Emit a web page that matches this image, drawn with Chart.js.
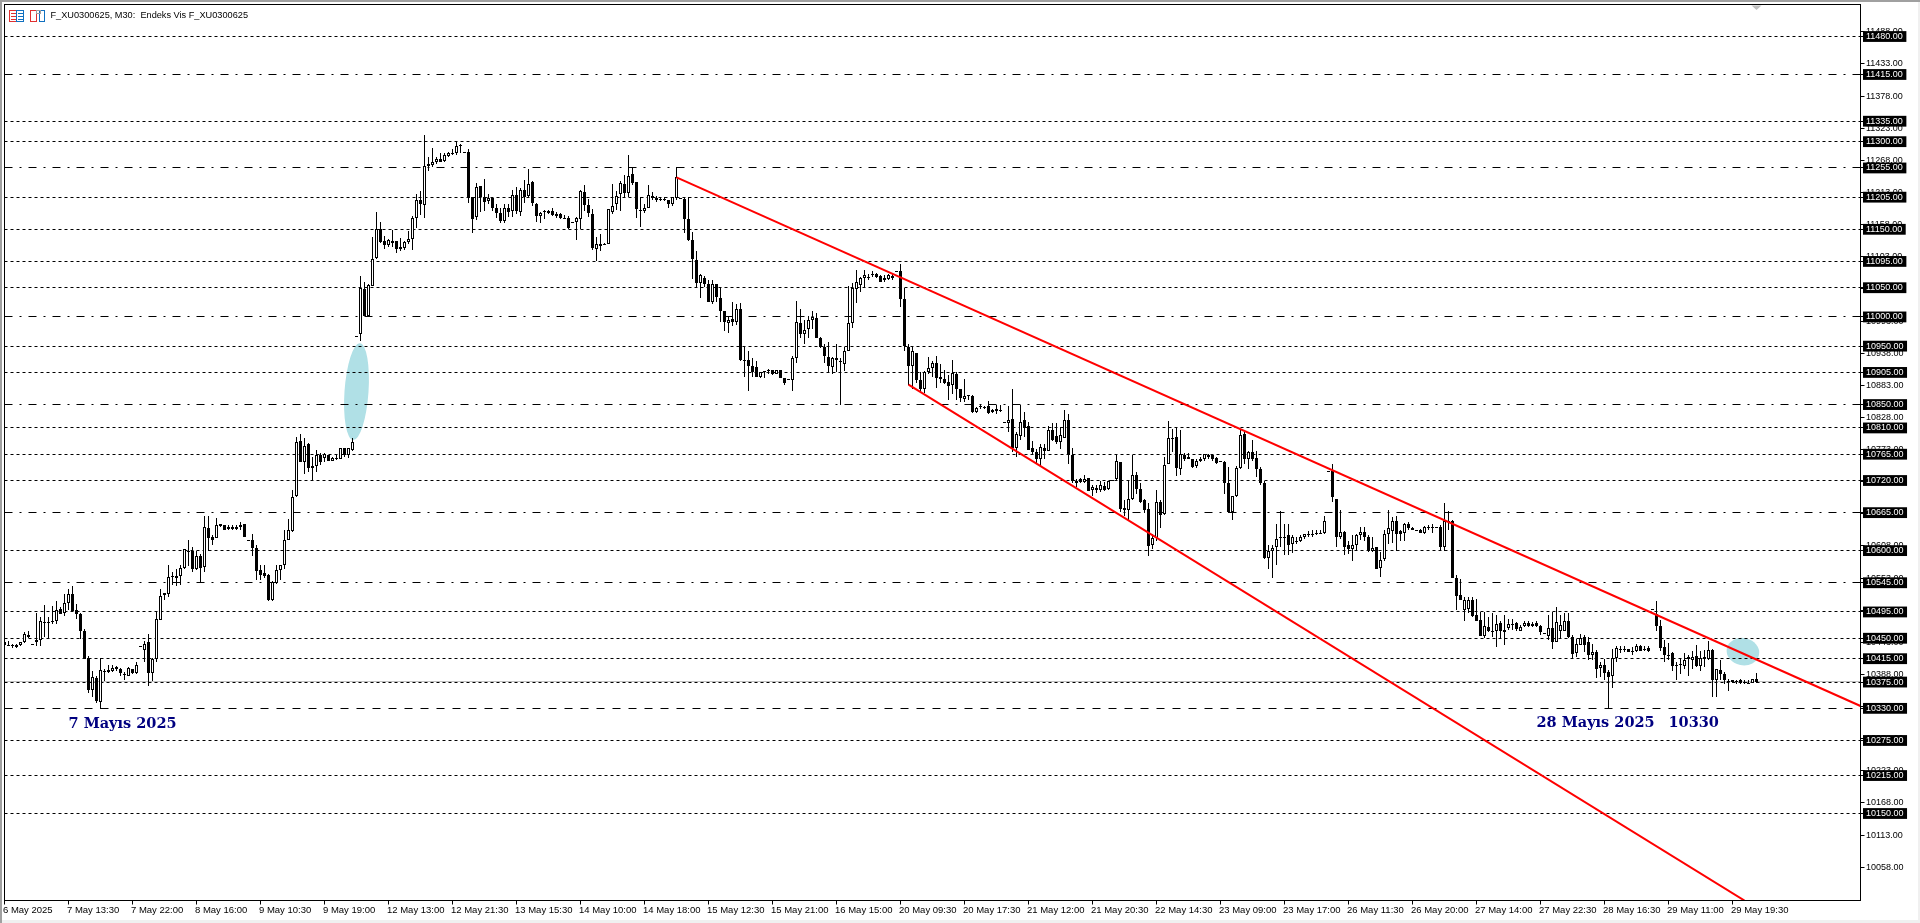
<!DOCTYPE html>
<html>
<head>
<meta charset="utf-8">
<title>F_XU0300625, M30</title>
<style>
html,body{margin:0;padding:0;background:#fff;overflow:hidden}
canvas{display:block}
</style>
<script src="https://cdn.jsdelivr.net/npm/chart.js@4"></script>
</head>
<body>
<canvas id="c" width="1920" height="923"></canvas>
<script>
const tickLabels = ["6 May 2025","7 May 13:30","7 May 22:00","8 May 16:00","9 May 10:30","9 May 19:00","12 May 13:00","12 May 21:30","13 May 15:30","14 May 10:00","14 May 18:00","15 May 12:30","15 May 21:00","16 May 15:00","20 May 09:30","20 May 17:30","21 May 12:00","21 May 20:30","22 May 14:30","23 May 09:00","23 May 17:00","26 May 11:30","26 May 20:00","27 May 14:00","27 May 22:30","28 May 16:30","29 May 11:00","29 May 19:30"];
const priceTicks = [11488,11433,11378,11323,11268,11213,11158,11103,11048,10993,10938,10883,10828,10773,10718,10663,10608,10553,10498,10443,10388,10333,10278,10223,10168,10113,10058];
const dottedLevels = [11480,11335,11300,11205,11150,11095,11050,10950,10905,10810,10765,10720,10600,10495,10450,10415,10375,10275,10215,10150];
const dashDotLevels = [11415,11255,11000,10850,10665,10545];
const dashedLevels = [10330];
const lastPrice = 10376.5;
const upperTrend = [[168,11239],[464,10334]];
const lowerTrend = [[226,10884],[435,10001]];
const opens = [
10444,10438,10439,10435,10438,10443,10456,10441,10443,10447,
10478,10478,10479,10479,10500,10493,10511,10525,10499,10492,
10463,10417,10362,10382,10341,10394,10395,10394,10401,10398,
10389,10386,10397,10391,10436,10430,10444,10390,10414,10482,
10527,10526,10556,10553,10556,10571,10600,10599,10569,10590,
10572,10639,10623,10622,10645,10643,10640,10640,10640,10643,
10646,10619,10619,10605,10566,10562,10559,10515,10545,10566,
10575,10619,10634,10693,10788,10752,10782,10744,10745,10763,
10758,10764,10754,10759,10757,10775,10764,10772,10967,10970,
11047,11002,11053,11101,11150,11130,11123,11130,11130,11119,
11118,11129,11133,11170,11201,11191,11262,11260,11266,11271,
11267,11276,11280,11280,11294,11283,11283,11206,11171,11224,
11206,11199,11203,11186,11178,11165,11187,11182,11208,11180,
11218,11207,11231,11194,11173,11182,11178,11182,11173,11177,
11170,11170,11162,11162,11168,11213,11192,11177,11117,11121,
11125,11125,11180,11194,11211,11227,11212,11244,11231,11183,
11182,11187,11207,11204,11202,11202,11200,11194,11203,11204,
11202,11167,11131,11098,11058,11067,11056,11026,11056,11033,
11011,10990,10996,10992,11014,10927,10926,10916,10914,10898,
10905,10909,10910,10903,10909,10896,10893,10892,10929,10989,
10971,10980,10995,10999,10964,10949,10932,10914,10930,10925,
10920,10942,10989,11047,11055,11067,11069,11071,11074,11070,
11063,11065,11070,11078,11078,11031,10949,10916,10939,10892,
10876,10906,10913,10922,10898,10894,10889,10884,10902,10876,
10860,10867,10864,10838,10847,10846,10847,10840,10839,10841,
10821,10818,10825,10776,10797,10823,10813,10775,10768,10757,
10776,10770,10806,10796,10786,10793,10824,10764,10719,10723,
10717,10724,10703,10708,10704,10710,10705,10721,10722,10752,
10673,10670,10689,10730,10705,10686,10671,10609,10621,10683,
10662,10749,10793,10794,10740,10763,10760,10757,10744,10757,
10756,10763,10763,10758,10753,10751,10715,10666,10693,10741,
10800,10756,10769,10759,10740,10716,10587,10599,10606,10624,
10624,10626,10612,10617,10617,10623,10629,10629,10631,10631,
10631,10736,10736,10689,10623,10632,10609,10602,10610,10626,
10632,10624,10599,10606,10570,10585,10629,10633,10651,10633,
10631,10646,10639,10636,10636,10630,10640,10640,10641,10641,
10607,10651,10651,10553,10524,10499,10500,10516,10489,10482,
10454,10470,10463,10462,10476,10460,10467,10475,10476,10463,
10471,10476,10475,10476,10471,10459,10453,10468,10444,10463,
10463,10479,10452,10424,10439,10452,10444,10422,10426,10399,
10405,10393,10385,10416,10431,10431,10431,10429,10429,10436,
10432,10433,10500,10492,10471,10435,10422,10425,10405,10406,
10403,10418,10412,10419,10402,10418,10414,10430,10378,10395,
10389,10377,10375,10376,10379,10375,10374,10374,10380];
const closes = [
10439,10438,10436,10438,10443,10458,10452,10441,10447,10480,
10478,10478,10480,10499,10492,10511,10526,10496,10492,10462,
10415,10362,10383,10343,10396,10394,10392,10399,10397,10390,
10388,10399,10391,10404,10436,10441,10390,10415,10483,10523,
10524,10554,10554,10557,10571,10602,10598,10568,10590,10570,
10640,10622,10618,10644,10642,10635,10637,10637,10637,10640,
10623,10619,10604,10565,10558,10556,10515,10546,10567,10576,
10619,10635,10692,10786,10752,10779,10742,10741,10764,10752,
10765,10754,10759,10759,10775,10763,10775,10786,10967,11049,
11002,11054,11100,11151,11129,11123,11131,11127,11117,11117,
11129,11133,11170,11201,11194,11259,11258,11266,11270,11266,
11278,11280,11280,11292,11292,11283,11203,11168,11222,11206,
11197,11204,11186,11178,11164,11186,11180,11208,11182,11218,
11206,11228,11195,11173,11178,11179,11182,11174,11177,11169,
11170,11153,11162,11170,11215,11191,11178,11118,11124,11125,
11125,11184,11190,11207,11230,11212,11242,11230,11184,11183,
11186,11209,11204,11200,11202,11202,11194,11205,11239,11204,
11167,11131,11099,11058,11071,11057,11026,11057,11034,11011,
10991,10994,10991,11014,10926,10925,10916,10905,10897,10905,
10908,10907,10902,10909,10896,10887,10893,10930,10992,10971,
10978,10995,11000,10964,10949,10933,10916,10930,10927,10925,
10941,10989,11049,11059,11067,11071,11069,11074,11069,11060,
11067,11071,11067,11078,11031,10950,10916,10941,10892,10876,
10906,10913,10922,10896,10893,10887,10882,10904,10876,10862,
10865,10865,10838,10844,10845,10844,10836,10837,10843,10840,
10821,10824,10775,10799,10821,10810,10773,10768,10757,10778,
10770,10807,10790,10786,10798,10824,10764,10719,10716,10717,
10723,10702,10709,10703,10712,10703,10719,10721,10754,10672,
10670,10689,10730,10706,10683,10669,10608,10621,10683,10661,
10747,10793,10793,10741,10766,10756,10757,10743,10754,10753,
10765,10760,10757,10750,10753,10716,10666,10693,10741,10798,
10756,10768,10756,10739,10716,10587,10599,10605,10620,10621,
10621,10609,10624,10614,10624,10628,10627,10629,10629,10631,
10651,10736,10691,10623,10632,10606,10602,10610,10627,10632,
10623,10599,10605,10569,10584,10629,10639,10651,10629,10629,
10646,10639,10636,10635,10631,10640,10640,10640,10641,10606,
10651,10651,10553,10523,10516,10515,10515,10488,10480,10454,
10471,10462,10462,10475,10462,10464,10475,10475,10465,10470,
10476,10471,10471,10471,10460,10459,10468,10444,10478,10472,
10479,10452,10423,10440,10450,10439,10422,10427,10398,10405,
10390,10383,10416,10434,10431,10431,10427,10429,10436,10429,
10432,10429,10500,10471,10434,10421,10422,10402,10405,10406,
10412,10415,10418,10402,10416,10415,10430,10378,10398,10389,
10378,10377,10379,10376,10374,10375,10374,10380,10375];
const highs = [
10446,10446,10440,10440,10444,10460,10462,10441,10493,10487,
10507,10487,10506,10513,10504,10526,10535,10540,10508,10494,
10465,10420,10394,10386,10417,10398,10405,10405,10403,10399,
10392,10401,10398,10410,10436,10445,10458,10416,10496,10535,
10528,10576,10564,10569,10575,10603,10619,10607,10599,10595,
10659,10659,10626,10655,10646,10644,10644,10643,10643,10649,
10646,10619,10629,10609,10575,10575,10560,10548,10575,10576,
10636,10654,10703,10795,10799,10792,10784,10760,10772,10767,
10767,10764,10761,10764,10775,10775,10775,10792,10967,11070,
11059,11056,11137,11179,11162,11138,11134,11149,11130,11135,
11130,11147,11173,11210,11215,11311,11273,11290,11273,11280,
11280,11282,11288,11300,11296,11283,11288,11206,11230,11224,
11236,11211,11203,11193,11186,11194,11193,11218,11223,11220,
11235,11254,11232,11195,11180,11183,11183,11186,11180,11178,
11174,11173,11162,11171,11218,11225,11202,11184,11136,11142,
11126,11184,11227,11216,11232,11243,11277,11256,11231,11206,
11193,11225,11214,11207,11206,11206,11201,11206,11256,11204,
11205,11206,11146,11113,11073,11070,11063,11064,11057,11049,
11011,11002,11025,11022,11023,10949,10941,10929,10924,10905,
10908,10911,10910,10910,10910,10896,10893,10933,11027,11013,
10994,11001,11010,11006,10966,10954,10957,10931,10953,10930,
10949,11053,11058,11081,11069,11080,11073,11078,11075,11071,
11071,11073,11074,11078,11090,11050,10954,10949,10939,10905,
10907,10931,10925,10933,10920,10909,10900,10926,10905,10876,
10894,10867,10866,10846,10849,10847,10856,10843,10850,10849,
10821,10847,10876,10803,10850,10837,10820,10787,10774,10783,
10783,10814,10819,10818,10812,10841,10833,10776,10723,10725,
10729,10725,10712,10712,10719,10717,10720,10721,10764,10752,
10686,10720,10764,10734,10715,10688,10682,10629,10703,10686,
10760,10822,10809,10812,10806,10767,10767,10757,10756,10760,
10766,10766,10764,10760,10753,10753,10743,10694,10745,10809,
10803,10771,10789,10771,10743,10720,10609,10609,10646,10668,
10645,10646,10627,10624,10626,10629,10633,10635,10636,10636,
10660,10736,10749,10689,10669,10633,10617,10626,10629,10641,
10640,10626,10623,10606,10597,10635,10670,10657,10660,10635,
10647,10649,10641,10636,10637,10642,10644,10645,10641,10643,
10682,10668,10652,10559,10552,10520,10520,10520,10518,10495,
10495,10486,10494,10489,10480,10489,10483,10483,10478,10472,
10479,10479,10478,10479,10472,10459,10489,10495,10504,10489,
10494,10494,10455,10449,10458,10456,10452,10440,10430,10409,
10415,10395,10432,10436,10436,10436,10432,10435,10440,10439,
10436,10436,10500,10513,10482,10447,10442,10426,10410,10415,
10424,10421,10429,10439,10429,10430,10446,10432,10398,10413,
10392,10381,10379,10379,10381,10378,10378,10381,10390];
const lows = [
10437,10437,10433,10433,10437,10442,10451,10441,10437,10436,
10452,10450,10475,10474,10491,10488,10498,10495,10483,10449,
10415,10356,10349,10339,10329,10377,10391,10393,10394,10386,
10379,10385,10389,10388,10436,10410,10369,10376,10410,10481,
10515,10520,10542,10540,10542,10569,10573,10564,10566,10545,
10563,10600,10609,10622,10640,10635,10636,10636,10636,10636,
10623,10619,10590,10549,10549,10553,10513,10513,10543,10549,
10568,10618,10632,10692,10751,10731,10735,10720,10735,10746,
10752,10754,10753,10755,10757,10761,10759,10771,10967,10959,
11001,11001,11053,11100,11127,11117,11119,11119,11110,11113,
11115,11124,11114,11153,11174,11170,11250,11256,11262,11266,
11266,11274,11278,11278,11280,11283,11195,11144,11166,11180,
11182,11194,11182,11170,11161,11161,11171,11171,11177,11173,
11195,11206,11190,11163,11161,11167,11177,11173,11170,11167,
11169,11150,11162,11131,11150,11182,11171,11114,11096,11113,
11124,11124,11176,11183,11181,11206,11206,11226,11169,11154,
11178,11186,11200,11197,11198,11199,11187,11190,11201,11204,
11144,11130,11065,11050,11033,11051,11026,11022,11026,10992,
10976,10973,10984,10986,10924,10897,10873,10898,10897,10896,
10895,10903,10901,10902,10896,10883,10893,10874,10921,10964,
10953,10964,10980,10964,10947,10921,10905,10903,10905,10850,
10907,10942,10981,11024,11043,11050,11064,11069,11067,11059,
11059,11063,11064,11078,11017,10941,10884,10876,10887,10872,
10869,10903,10897,10878,10887,10886,10857,10868,10858,10854,
10854,10858,10836,10836,10843,10842,10834,10835,10834,10837,
10821,10803,10769,10761,10789,10794,10772,10763,10750,10743,
10757,10770,10788,10783,10774,10792,10749,10716,10709,10715,
10716,10702,10693,10699,10701,10702,10704,10721,10721,10666,
10660,10652,10687,10697,10681,10664,10591,10603,10617,10639,
10661,10748,10769,10727,10729,10754,10756,10741,10742,10751,
10754,10757,10754,10749,10753,10697,10664,10652,10692,10740,
10749,10740,10754,10726,10712,10586,10569,10553,10576,10606,
10592,10593,10596,10612,10615,10620,10624,10623,10627,10628,
10629,10736,10684,10606,10620,10593,10595,10582,10600,10619,
10617,10597,10597,10569,10555,10583,10612,10613,10599,10616,
10616,10636,10635,10634,10630,10629,10636,10630,10641,10599,
10599,10635,10553,10498,10516,10480,10494,10487,10480,10454,
10450,10460,10452,10435,10449,10438,10464,10464,10463,10462,
10469,10470,10469,10469,10456,10459,10447,10432,10443,10449,
10462,10451,10415,10418,10438,10426,10412,10412,10382,10383,
10379,10330,10365,10409,10425,10426,10426,10422,10427,10428,
10428,10426,10500,10463,10429,10409,10413,10394,10378,10389,
10398,10386,10398,10401,10394,10401,10412,10349,10350,10378,
10371,10359,10374,10371,10371,10371,10371,10373,10373];
const noteTexts = ["7 Mayıs 2025","28 Mayıs 2025","10330"];
const noteBars = [16,383,416];
const notePrices = [10302,10305,10305];
const ellipseBars = [88,434.6];
const ellipsePrices = [10872,10427];
const ellipseHalfBars = [3.0,4.1];
const ellipseHalfPoints = [83,23.4];
const ellipseTilts = [0.07,0.2];
const titleText = "F_XU0300625, M30:  Endeks Vis F_XU0300625";

const X_MIN = 0, X_MAX = 464;
const levelLine = (price, dash) => ({
  type:'line', snap:true, order:3,
  data:[{x:X_MIN,y:price},{x:X_MAX,y:price}],
  borderColor:'#000', borderWidth:1, borderDash:dash, pointRadius:0, tension:0
});
const trend = pts => ({
  type:'line', order:0, data:pts.map(p=>({x:p[0],y:p[1]})),
  borderColor:'#ff0000', borderWidth:2, pointRadius:0, tension:0
});
const allLevels = [...dottedLevels,...dashDotLevels,...dashedLevels];
const noAxisPadding = s => { s.paddingLeft=0; s.paddingRight=0; s.paddingTop=0; s.paddingBottom=0; };

const chrome = {
  id:'chrome',
  beforeDraw(chart){
    const c = chart.ctx;
    c.save();
    c.fillStyle='#fff'; c.fillRect(0,0,1920,923);
    c.fillStyle='#f0f0f0'; c.fillRect(1918,0,2,923); c.fillRect(0,920,1920,3);
    c.fillStyle='#a0a0a0'; c.fillRect(0,0,1920,2); c.fillRect(0,0,2,923);
    c.restore();
  },
  beforeDatasetsDraw(chart){
    const c = chart.ctx, sx = chart.scales.x, sy = chart.scales.y;
    c.save();
    c.beginPath(); c.rect(chart.chartArea.left,chart.chartArea.top,chart.chartArea.width,chart.chartArea.height); c.clip();
    c.fillStyle='#b0e0e6';
    ellipseBars.forEach((b,i)=>{
      const cx=sx.getPixelForValue(b), cy=sy.getPixelForValue(ellipsePrices[i]);
      const rx=sx.getPixelForValue(b+ellipseHalfBars[i])-cx;
      const ry=sy.getPixelForValue(ellipsePrices[i]-ellipseHalfPoints[i])-cy;
      c.beginPath(); c.ellipse(cx,cy,rx,ry,ellipseTilts[i],0,Math.PI*2); c.fill();
    });
    c.restore();
  },
  afterDatasetsUpdate(chart){
    chart.getSortedVisibleDatasetMetas().forEach(meta=>{
      const ds = chart.data.datasets[meta.index];
      if(meta.type==='bar'){
        meta.data.forEach(el=>{
          el.y=Math.round(el.y); el.base=Math.round(el.base);
          if(el.y===el.base) el.base=el.y+1;
        });
      } else if(ds.snap){
        meta.data.forEach(el=>{ el.y=Math.floor(el.y)+0.5; });
      }
    });
  },
  afterDatasetsDraw(chart){
    const c = chart.ctx, a = chart.chartArea, sx = chart.scales.x, sy = chart.scales.y;
    c.save();
    c.strokeStyle='#000'; c.lineWidth=1; c.strokeRect(a.left,a.top,a.width,a.height);
    c.fillStyle='#c0c0c0'; c.beginPath(); c.moveTo(sx.getPixelForValue(438)-5,a.top+1); c.lineTo(sx.getPixelForValue(438)+5,a.top+1); c.lineTo(sx.getPixelForValue(438),a.top+5.5); c.closePath(); c.fill();
    c.font='bold 14.5px "DejaVu Serif"'; c.fillStyle='#000080'; c.textBaseline='middle'; c.textAlign='left';
    noteTexts.forEach((t,i)=>c.fillText(t,sx.getPixelForValue(noteBars[i]),sy.getPixelForValue(notePrices[i])));
    c.font='9.2px "Liberation Sans"'; c.fillStyle='#000'; c.fillText(titleText,50.5,15.5);
    c.lineWidth=1;
    c.strokeStyle='#e03030'; c.strokeRect(9.5,10.5,7,11); c.strokeRect(30.5,10.5,6,11);
    c.strokeStyle='#1070c0'; c.strokeRect(16.5,10.5,7,11); c.strokeRect(39.5,10.5,5,11);
    c.strokeStyle='#a0a0a0'; c.strokeRect(36.5,10.5,4,3);
    c.strokeStyle='#e03030'; c.beginPath(); for(const y of [13.5,16.5,19.5]){c.moveTo(11,y);c.lineTo(16,y);} c.stroke();
    c.strokeStyle='#1070c0'; c.beginPath(); for(const y of [13.5,16.5,19.5]){c.moveTo(18,y);c.lineTo(23,y);} c.stroke();
    c.restore();
  }
};

new Chart(document.getElementById('c'),{
  type:'bar',
  plugins:[chrome],
  data:{datasets:[
    ...dottedLevels.map(p=>levelLine(p,[3,3])),
    ...dashDotLevels.map(p=>levelLine(p,[8,7,2,7])),
    ...dashedLevels.map(p=>levelLine(p,[8,8])),
    {type:'line',snap:true,order:4,data:[{x:X_MIN,y:lastPrice},{x:X_MAX,y:lastPrice}],borderColor:'#c0c0c0',borderWidth:1,pointRadius:0},
    trend(upperTrend), trend(lowerTrend),
    {type:'bar',order:2,grouped:false,barThickness:1,borderWidth:0,inflateAmount:0,backgroundColor:'#000',
     data:highs.map((h,i)=>({x:i,y:[lows[i],h]}))},
    {type:'bar',order:1,grouped:false,barThickness:3,borderWidth:1,borderSkipped:false,inflateAmount:0,borderColor:'#000',
     backgroundColor:ctx=>closes[ctx.dataIndex]>=opens[ctx.dataIndex]?'#fff':'#000',
     data:opens.map((o,i)=>({x:i,y:[o,closes[i]]}))}
  ]},
  options:{
    responsive:false, animation:false, devicePixelRatio:1, events:[],
    layout:{autoPadding:false,padding:{left:4.5,top:4.5,right:0,bottom:0}},
    plugins:{legend:{display:false},tooltip:{enabled:false},title:{display:false}},
    scales:{
      x:{type:'linear',offset:false,min:X_MIN,max:X_MAX,
        afterFit:s=>{s.height=22.5;noAxisPadding(s);},
        afterBuildTicks:s=>{s.ticks=tickLabels.map((_,i)=>({value:i*16}));},
        grid:{drawOnChartArea:false,drawTicks:true,tickLength:4,color:'#000',offset:false},
        border:{display:true,color:'#000',width:1},
        ticks:{autoSkip:false,maxRotation:0,minRotation:0,align:'start',padding:0,labelOffset:-1.5,color:'#000',
          font:{family:'"Liberation Sans"',size:9.5},
          callback:v=>tickLabels[Math.round(v/16)]}
      },
      y:{type:'linear',position:'right',min:10001.1,max:11534.8,
        afterFit:s=>{s.width=59.5;noAxisPadding(s);},
        afterBuildTicks:s=>{s.ticks=[...priceTicks,...allLevels].map(v=>({value:v}));},
        grid:{drawOnChartArea:false,drawTicks:true,tickLength:4,color:'#000'},
        border:{display:true,color:'#000',width:1},
        ticks:{autoSkip:false,padding:1.5,
          font:{family:'"Liberation Sans"',size:9},
          color:ctx=>allLevels.includes(ctx.tick.value)?'#fff':'#000',
          showLabelBackdrop:ctx=>allLevels.includes(ctx.tick.value),
          backdropColor:'#000',
          backdropPadding:{left:3,right:3.5,top:0,bottom:0},
          callback:v=>v.toFixed(2)}
      }
    }
  }
});
</script>
</body>
</html>
